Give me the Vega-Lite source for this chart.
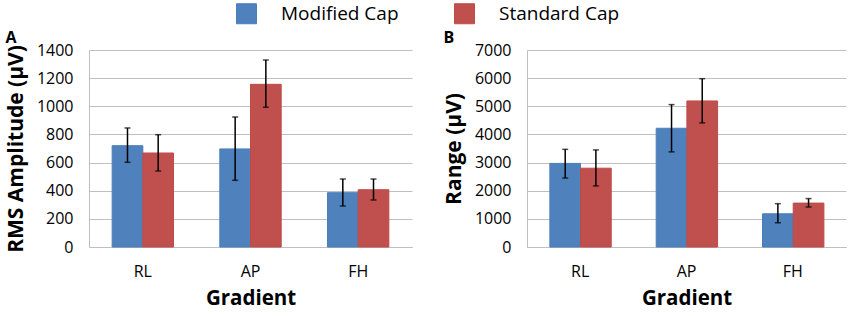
{
  "$schema": "https://vega.github.io/schema/vega-lite/v6.json",
  "background": "white",
  "padding": {"left": 5, "top": 3, "right": 5, "bottom": 0},
  "datasets": {
    "amp": [
      {"Gradient": "RL", "Cap": "Modified Cap", "mean": 720, "lo": 602, "hi": 846},
      {"Gradient": "RL", "Cap": "Standard Cap", "mean": 668, "lo": 540, "hi": 798},
      {"Gradient": "AP", "Cap": "Modified Cap", "mean": 697, "lo": 474, "hi": 924},
      {"Gradient": "AP", "Cap": "Standard Cap", "mean": 1156, "lo": 993, "hi": 1329},
      {"Gradient": "FH", "Cap": "Modified Cap", "mean": 386, "lo": 291, "hi": 483},
      {"Gradient": "FH", "Cap": "Standard Cap", "mean": 407, "lo": 334, "hi": 483}
    ],
    "range": [
      {"Gradient": "RL", "Cap": "Modified Cap", "mean": 2970, "lo": 2450, "hi": 3470},
      {"Gradient": "RL", "Cap": "Standard Cap", "mean": 2800, "lo": 2170, "hi": 3450},
      {"Gradient": "AP", "Cap": "Modified Cap", "mean": 4220, "lo": 3380, "hi": 5060},
      {"Gradient": "AP", "Cap": "Standard Cap", "mean": 5190, "lo": 4410, "hi": 5980},
      {"Gradient": "FH", "Cap": "Modified Cap", "mean": 1180, "lo": 860, "hi": 1540},
      {"Gradient": "FH", "Cap": "Standard Cap", "mean": 1560, "lo": 1420, "hi": 1720}
    ]
  },
  "config": {
    "font": "Open Sans",
    "view": {"stroke": null},
    "axis": {
      "labelFont": "Open Sans",
      "titleFont": "Open Sans",
      "labelFontSize": 16,
      "labelColor": "#000000",
      "titleFontSize": 21,
      "titleFontWeight": "bold",
      "titleColor": "#000000",
      "domainColor": "#BFBFBF",
      "gridColor": "#BFBFBF",
      "ticks": false
    },
    "title": {"font": "Open Sans", "fontSize": 16, "fontWeight": "bold", "anchor": "start", "frame": "bounds", "color": "#000000"}
  },
  "spacing": 31,
  "hconcat": [
    {
      "data": {"name": "amp"},
      "width": 323,
      "height": 197,
      "title": {"text": "A", "offset": -4},
      "encoding": {
        "x": {"field": "Gradient", "type": "nominal", "sort": ["RL", "AP", "FH"],
              "scale": {"paddingInner": 0.43, "paddingOuter": 0.215},
              "axis": {"title": "Gradient", "titleFontSize": 20.5, "labelAngle": 0, "labelPadding": 16, "titlePadding": 9, "domain": true, "grid": false}},
        "xOffset": {"field": "Cap", "type": "nominal", "sort": ["Modified Cap", "Standard Cap"]}
      },
      "layer": [
        {
          "mark": {"type": "bar", "strokeWidth": 1},
          "encoding": {
            "y": {"field": "mean", "type": "quantitative",
                  "scale": {"domain": [0, 1400]},
                  "axis": {"title": "RMS Amplitude (µV)", "values": [0, 200, 400, 600, 800, 1000, 1200, 1400], "format": "d", "labelOverlap": false, "labelPadding": 16, "titlePadding": 10, "domain": true}},
            "color": {"field": "Cap", "type": "nominal", "sort": ["Modified Cap", "Standard Cap"],
                      "scale": {"domain": ["Modified Cap", "Standard Cap"], "range": ["#4F81BD", "#C0504D"]},
                      "legend": {"title": null, "orient": "none", "direction": "horizontal", "legendX": 147, "legendY": -47,
                                 "symbolType": "square", "symbolSize": 400, "symbolStrokeWidth": 1, "labelFontSize": 19, "labelFont": "Open Sans", "labelColor": "#000000", "labelOffset": 24, "columnPadding": 53, "labelLimit": 300}},
            "stroke": {"field": "Cap", "type": "nominal", "scale": {"domain": ["Modified Cap", "Standard Cap"], "range": ["#4A7EBB", "#BE4B48"]}, "legend": null}
          }
        },
        {
          "mark": {"type": "rule", "color": "#000000", "strokeWidth": 1.5},
          "encoding": {"y": {"field": "lo", "type": "quantitative", "scale": {"domain": [0, 1400]},
                  "axis": {"title": "RMS Amplitude (µV)", "values": [0, 200, 400, 600, 800, 1000, 1200, 1400], "format": "d", "labelOverlap": false, "labelPadding": 16, "titlePadding": 10, "domain": true}}, "y2": {"field": "hi"}}
        },
        {
          "mark": {"type": "tick", "color": "#000000", "thickness": 1.5, "size": 6},
          "encoding": {"y": {"field": "lo", "type": "quantitative", "scale": {"domain": [0, 1400]},
                  "axis": {"title": "RMS Amplitude (µV)", "values": [0, 200, 400, 600, 800, 1000, 1200, 1400], "format": "d", "labelOverlap": false, "labelPadding": 16, "titlePadding": 10, "domain": true}}}
        },
        {
          "mark": {"type": "tick", "color": "#000000", "thickness": 1.5, "size": 6},
          "encoding": {"y": {"field": "hi", "type": "quantitative", "scale": {"domain": [0, 1400]},
                  "axis": {"title": "RMS Amplitude (µV)", "values": [0, 200, 400, 600, 800, 1000, 1200, 1400], "format": "d", "labelOverlap": false, "labelPadding": 16, "titlePadding": 10, "domain": true}}}
        }
      ]
    },
    {
      "data": {"name": "range"},
      "width": 319,
      "height": 197,
      "title": {"text": "B", "offset": -4},
      "encoding": {
        "x": {"field": "Gradient", "type": "nominal", "sort": ["RL", "AP", "FH"],
              "scale": {"paddingInner": 0.43, "paddingOuter": 0.215},
              "axis": {"title": "Gradient", "titleFontSize": 20.5, "labelAngle": 0, "labelPadding": 16, "titlePadding": 9, "domain": true, "grid": false}},
        "xOffset": {"field": "Cap", "type": "nominal", "sort": ["Modified Cap", "Standard Cap"]}
      },
      "layer": [
        {
          "mark": {"type": "bar", "strokeWidth": 1},
          "encoding": {
            "y": {"field": "mean", "type": "quantitative",
                  "scale": {"domain": [0, 7000]},
                  "axis": {"title": "Range (µV)", "values": [0, 1000, 2000, 3000, 4000, 5000, 6000, 7000], "format": "d", "labelOverlap": false, "labelPadding": 16, "titlePadding": 10, "domain": true}},
            "color": {"field": "Cap", "type": "nominal", "sort": ["Modified Cap", "Standard Cap"],
                      "scale": {"domain": ["Modified Cap", "Standard Cap"], "range": ["#4F81BD", "#C0504D"]}},
            "stroke": {"field": "Cap", "type": "nominal", "scale": {"domain": ["Modified Cap", "Standard Cap"], "range": ["#4A7EBB", "#BE4B48"]}, "legend": null}
          }
        },
        {
          "mark": {"type": "rule", "color": "#000000", "strokeWidth": 1.5},
          "encoding": {"y": {"field": "lo", "type": "quantitative", "scale": {"domain": [0, 7000]},
                  "axis": {"title": "Range (µV)", "values": [0, 1000, 2000, 3000, 4000, 5000, 6000, 7000], "format": "d", "labelOverlap": false, "labelPadding": 16, "titlePadding": 10, "domain": true}}, "y2": {"field": "hi"}}
        },
        {
          "mark": {"type": "tick", "color": "#000000", "thickness": 1.5, "size": 6},
          "encoding": {"y": {"field": "lo", "type": "quantitative", "scale": {"domain": [0, 7000]},
                  "axis": {"title": "Range (µV)", "values": [0, 1000, 2000, 3000, 4000, 5000, 6000, 7000], "format": "d", "labelOverlap": false, "labelPadding": 16, "titlePadding": 10, "domain": true}}}
        },
        {
          "mark": {"type": "tick", "color": "#000000", "thickness": 1.5, "size": 6},
          "encoding": {"y": {"field": "hi", "type": "quantitative", "scale": {"domain": [0, 7000]},
                  "axis": {"title": "Range (µV)", "values": [0, 1000, 2000, 3000, 4000, 5000, 6000, 7000], "format": "d", "labelOverlap": false, "labelPadding": 16, "titlePadding": 10, "domain": true}}}
        }
      ]
    }
  ],
  "resolve": {"scale": {"y": "independent"}}
}
